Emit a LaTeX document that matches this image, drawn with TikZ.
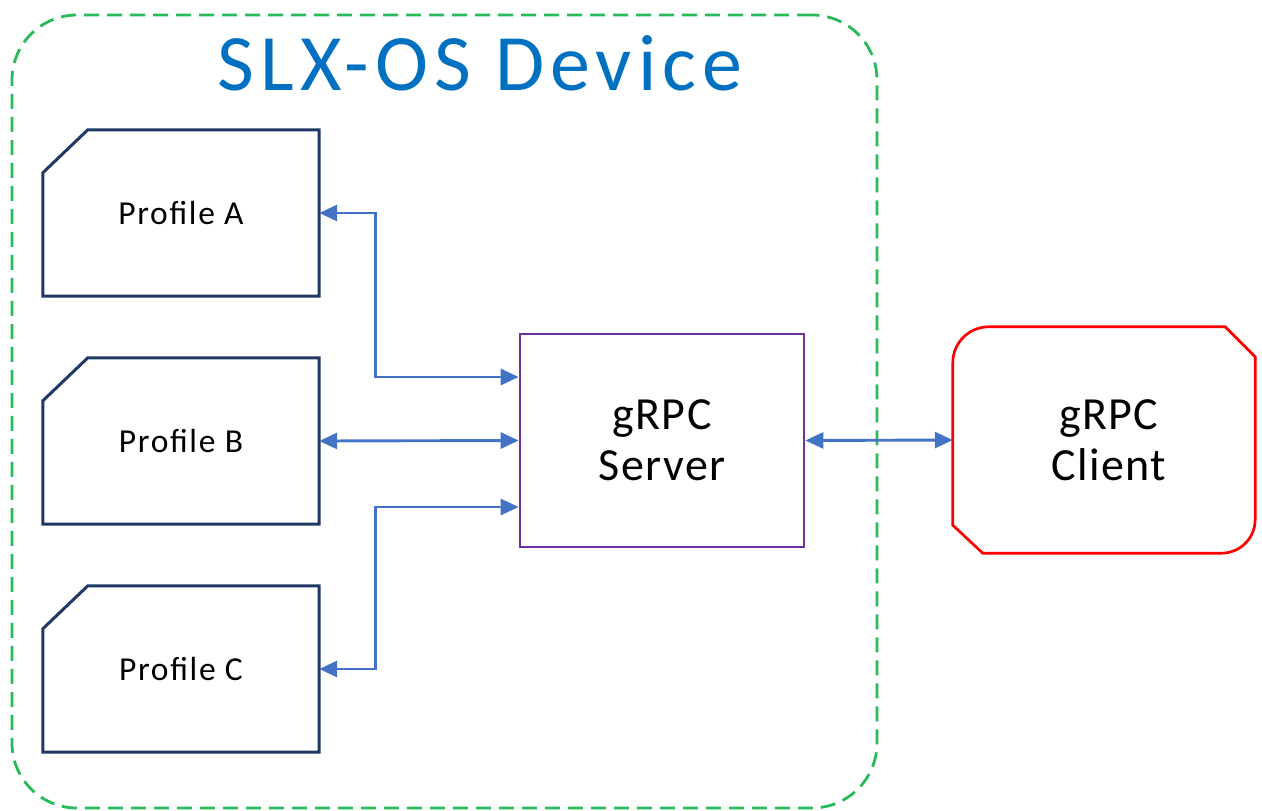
\documentclass[tikz,border=0pt]{standalone}
\usepackage{fontspec}
\setmainfont{Carlito}
\newfontfamily\titlefont[LetterSpace=7.6]{Carlito}
\newfontfamily\proffont[LetterSpace=5]{Carlito}
\newfontfamily\bigfont[LetterSpace=3]{Carlito}
\usetikzlibrary{arrows.meta}
\definecolor{devgreen}{RGB}{40,185,90}
\definecolor{titleblue}{RGB}{0,112,192}
\definecolor{navy}{RGB}{31,56,100}
\definecolor{srvpurple}{RGB}{112,48,160}
\definecolor{connblue}{RGB}{68,114,196}
\begin{document}
\begin{tikzpicture}[x=1pt,y=-1pt,
  devbox/.style={draw=devgreen,line width=2.8pt,dash pattern=on 15pt off 8pt,rounded corners=65pt,minimum width=865pt,minimum height=793pt,inner sep=0pt},
  titletext/.style={text=titleblue,font=\titlefont\fontsize{80}{90}\selectfont,inner sep=0pt},
  profbox/.style={minimum width=276pt,minimum height=166pt,inner sep=0pt,font=\proffont\fontsize{33.5}{40}\selectfont},
  profline/.style={draw=navy,line width=3pt,line join=miter},
  srvbox/.style={draw=srvpurple,line width=2.7pt,minimum width=284pt,minimum height=213pt,inner sep=0pt,align=center,font=\bigfont\fontsize{46}{51}\selectfont},
  clbox/.style={minimum width=302pt,minimum height=226pt,inner sep=0pt},
  cltext/.style={align=center,inner sep=0pt,font=\bigfont\fontsize{46}{51}\selectfont},
  clline/.style={draw=red,line width=2.7pt},
  conn/.style={draw=connblue,line width=2.9pt,{Triangle[length=18pt,width=16pt]}-{Triangle[length=18pt,width=16pt]}}
]
\useasboundingbox (0,0) rectangle (1262,811);
\node[devbox] (dev) at (444.5,411.5) {};
\node[titletext,anchor=base] (title) at (480,90) {SLX-OS Device};

\node[profbox] (pa) at (181,213) {Profile A};
\node[profbox] (pb) at (181,441) {Profile B};
\node[profbox] (pc) at (181,669) {Profile C};
\foreach \p in {pa,pb,pc}{
  \draw[profline] ([xshift=45pt]\p.north west) -- (\p.north east) -- (\p.south east) -- (\p.south west) -- ([yshift=-43pt]\p.north west) -- cycle;
}

\node[srvbox] (srv) at (662,440.5) {gRPC\\Server};

\node[clbox] (cl) at (1104,440) {};
\node[cltext] (clt) at (1109,440) {gRPC\\Client};
\draw[clline] ([xshift=-30pt]cl.north east) -- ([yshift=-30pt]cl.north east)
  -- ([yshift=34pt]cl.south east) .. controls ([yshift=15pt]cl.south east) and ([xshift=-15pt]cl.south east) .. ([xshift=-34pt]cl.south east)
  -- ([xshift=30pt]cl.south west) -- ([yshift=28pt]cl.south west)
  -- ([yshift=-36pt]cl.north west) .. controls ([yshift=-16pt]cl.north west) and ([xshift=16pt]cl.north west) .. ([xshift=36pt]cl.north west)
  -- cycle;

\coordinate (sa) at ([yshift=63.5pt]srv.west);
\coordinate (sc) at ([yshift=-66.5pt]srv.west);
\draw[conn] (pa.east) -- ([xshift=56pt]pa.east) |- (sa);
\draw[conn] (pb.east) -- (srv.west);
\draw[conn] (pc.east) -- ([xshift=56pt]pc.east) |- (sc);
\draw[conn] (srv.east) -- (cl.west);
\end{tikzpicture}
\end{document}
